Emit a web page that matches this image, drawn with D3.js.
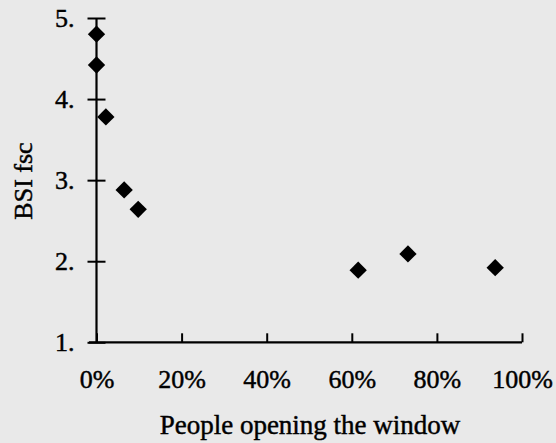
<!DOCTYPE html>
<html>
<head>
<meta charset="utf-8">
<script src="https://cdn.jsdelivr.net/npm/d3@7"></script>
<style>
  html, body { margin: 0; padding: 0; background: #e9e9e9; }
  svg { display: block; }
  text { font-family: "Liberation Serif", "Times New Roman", serif; fill: #000; stroke: #000; stroke-width: 0.45px; }
</style>
</head>
<body>
<svg id="chart" width="556" height="443"></svg>
<script>
// Share of people opening the window (fraction) vs. BSI fsc score
const openingShare = [0.0, 0.0, 0.022, 0.065, 0.098, 0.615, 0.732, 0.937];
const bsiFsc       = [4.80, 4.42, 3.78, 2.88, 2.64, 1.89, 2.09, 1.92];
const xTicks = [0, 0.2, 0.4, 0.6, 0.8, 1.0];
const yTicks = [1, 2, 3, 4, 5];

const svg = d3.select("#chart");
const x = d3.scaleLinear().domain([0, 1]).range([96.5, 522]);
const y = d3.scaleLinear().domain([1, 5]).range([342.3, 18]);

const ink = "#000";
const fontSize = 26;

// Y axis: ticks cross the axis line, labels written as "5."
const yAxis = svg.append("g")
  .attr("transform", `translate(${x(0)},0)`)
  .call(d3.axisLeft(y).tickValues(yTicks).tickSize(9).tickPadding(13)
    .tickFormat(d => d + "."));
yAxis.select(".domain").remove();
yAxis.selectAll(".tick line").attr("x1", -9).attr("x2", 9)
  .attr("stroke", ink).attr("stroke-width", 2);
yAxis.selectAll(".tick text").attr("font-size", fontSize)
  .attr("font-family", "Liberation Serif, serif").attr("dy", "0.33em");

// X axis: short ticks pointing up into the plot
const xAxis = svg.append("g")
  .attr("transform", `translate(0,${y(1)})`)
  .call(d3.axisBottom(x).tickValues(xTicks).tickSize(-9).tickPadding(27)
    .tickFormat(d3.format(".0%")));
xAxis.select(".domain").remove();
xAxis.selectAll(".tick line").attr("stroke", ink).attr("stroke-width", 2);
xAxis.selectAll(".tick text").attr("font-size", fontSize)
  .attr("font-family", "Liberation Serif, serif");

// Axis lines
svg.append("line")
  .attr("x1", x(0)).attr("x2", x(0)).attr("y1", y(5)).attr("y2", y(1))
  .attr("stroke", ink).attr("stroke-width", 2.2);
svg.append("line")
  .attr("x1", x(0) - 7.5).attr("x2", x(1)).attr("y1", y(1)).attr("y2", y(1))
  .attr("stroke", ink).attr("stroke-width", 2.2);

// Points drawn as diamonds (rotated squares)
const diamond = d3.symbol(d3.symbolSquare, 150);
svg.append("g").selectAll("path")
  .data(d3.range(openingShare.length))
  .join("path")
  .attr("d", diamond)
  .attr("transform", i => `translate(${x(openingShare[i])},${y(bsiFsc[i])}) rotate(45)`)
  .attr("fill", ink);

// Axis titles
svg.append("text")
  .attr("x", 310).attr("y", 434)
  .attr("text-anchor", "middle")
  .attr("font-size", 27)
  .text("People opening the window");

svg.append("text")
  .attr("transform", `translate(32,181) rotate(-90)`)
  .attr("text-anchor", "middle")
  .attr("font-size", 26)
  .text("BSI fsc");
</script>
</body>
</html>
